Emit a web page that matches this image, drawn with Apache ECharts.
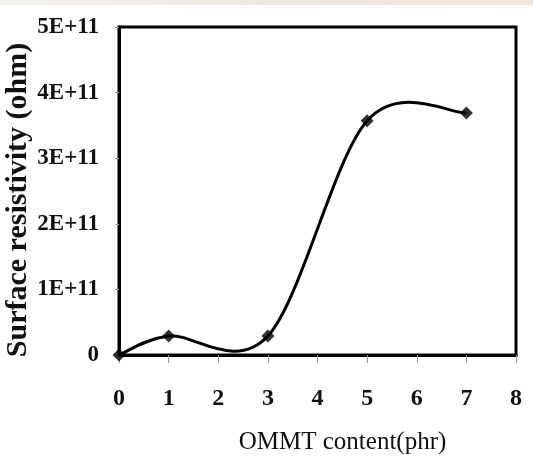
<!DOCTYPE html>
<html>
<head>
    <meta charset="utf-8">
    <title>Surface resistivity</title>
    <script src="https://cdn.jsdelivr.net/npm/echarts@6/dist/echarts.min.js"></script>
    <style>
        html, body { margin: 0; padding: 0; background: #fff; }
        #container { width: 533px; height: 460px; }
    </style>
</head>
<body>
<div id="container"></div>
<script type="text/javascript">
    // data
    var ommt = [0, 1, 3, 5, 7];
    var resistivity = [0, 2.9e10, 2.9e10, 3.57e11, 3.69e11];
    var yTickLabels = ['0', '1E+11', '2E+11', '3E+11', '4E+11', '5E+11'];
    var xTickLabels = ['0', '1', '2', '3', '4', '5', '6', '7', '8'];

    var points = [];
    for (var i = 0; i < ommt.length; i++) {
        points.push([ommt[i], resistivity[i]]);
    }

    var mychart = echarts.init(document.getElementById('container'));
    var serif = '"Liberation Serif", "Times New Roman", serif';

    // Excel-like smoothed segment (catmull-rom style bezier) between point i and i+1
    function renderSegment(params, api) {
        var i = params.dataIndex;
        if (i >= points.length - 1) return;
        var p0 = api.coord(points[Math.max(i - 1, 0)]);
        var p1 = api.coord(points[i]);
        var p2 = api.coord(points[i + 1]);
        var p3 = api.coord(points[Math.min(i + 2, points.length - 1)]);
        return {
            type: 'bezierCurve',
            shape: {
                x1: p1[0], y1: p1[1],
                x2: p2[0], y2: p2[1],
                cpx1: p1[0] + (p2[0] - p0[0]) / 6, cpy1: p1[1] + (p2[1] - p0[1]) / 6,
                cpx2: p2[0] - (p3[0] - p1[0]) / 6, cpy2: p2[1] - (p3[1] - p1[1]) / 6
            },
            style: { stroke: '#000', lineWidth: 3, fill: null }
        };
    }

    var options = {
        backgroundColor: '#fff',
        animation: false,
        // faint strip of the scanned page at the top edge
        graphic: [{
            type: 'rect', left: 0, top: 0, z: -1,
            shape: { width: 533, height: 5 },
            style: {
                fill: new echarts.graphic.LinearGradient(0, 0, 1, 0, [
                    { offset: 0, color: '#f4f2ee' },
                    { offset: 0.5, color: '#ece8e2' },
                    { offset: 1, color: '#f3e6dc' }
                ])
            }
        }],
        grid: {
            left: 119, right: 17, top: 27, bottom: 105,
            outerBoundsMode: 'none',
            show: true, borderColor: '#000', borderWidth: 3, backgroundColor: '#fff'
        },
        xAxis: {
            type: 'value', min: 0, max: 8, interval: 1,
            name: 'OMMT content(phr)', nameLocation: 'middle', nameGap: 75,
            nameMoveOverlap: false,
            nameTextStyle: { fontFamily: serif, fontSize: 25, color: '#111', padding: [0, 0, 0, 50] },
            axisLine: { lineStyle: { color: '#000', width: 3 } },
            axisTick: { show: true, length: 8, lineStyle: { color: '#999', width: 1 } },
            axisLabel: {
                margin: 32, fontFamily: serif, fontWeight: 'bold', fontSize: 24, color: '#111',
                formatter: function (v) { return xTickLabels[v]; }
            },
            splitLine: { show: false }
        },
        yAxis: {
            type: 'value', min: 0, max: 5e11, interval: 1e11,
            name: 'Surface resistivity (ohm)', nameLocation: 'middle', nameGap: 86,
            nameMoveOverlap: false,
            nameTextStyle: { fontFamily: serif, fontWeight: 'bold', fontSize: 30, color: '#111', padding: [0, 18, 0, 0] },
            axisLine: { show: true, lineStyle: { color: '#000', width: 3 } },
            axisTick: { show: true, length: 4, lineStyle: { color: '#999', width: 1 } },
            axisLabel: {
                margin: 20, fontFamily: serif, fontWeight: 'bold', fontSize: 23, color: '#111',
                formatter: function (v) { return yTickLabels[Math.round(v / 1e11)]; }
            },
            splitLine: { show: false }
        },
        series: [{
            type: 'custom',
            data: points,
            renderItem: renderSegment,
            silent: true
        }, {
            type: 'scatter',
            data: points,
            symbol: 'diamond',
            symbolSize: 13,
            itemStyle: { color: '#000' }
        }]
    };
    mychart.setOption(options);
</script>
</body>
</html>
